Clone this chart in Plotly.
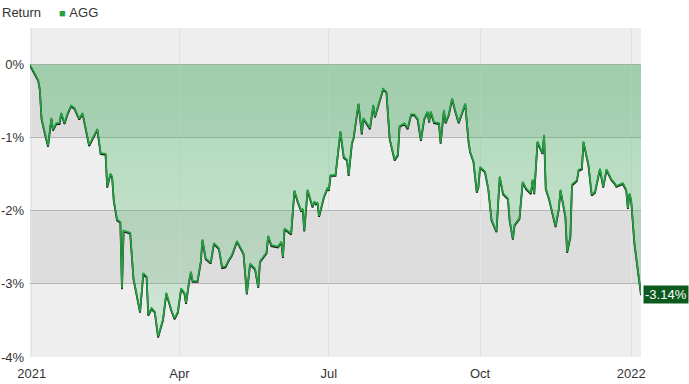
import plotly.graph_objects as go

# ---- data -------------------------------------------------------------
dates = ["2020-12-31","2021-01-05","2021-01-06","2021-01-07","2021-01-09","2021-01-11","2021-01-13","2021-01-14",
"2021-01-16","2021-01-18","2021-01-19","2021-01-21","2021-01-23","2021-01-25","2021-01-27","2021-01-30","2021-02-01",
"2021-02-03","2021-02-05","2021-02-10","2021-02-12","2021-02-15","2021-02-16","2021-02-18","2021-02-19","2021-02-20",
"2021-02-22","2021-02-24","2021-02-25","2021-02-26","2021-03-02","2021-03-04","2021-03-08","2021-03-10","2021-03-12",
"2021-03-13","2021-03-15","2021-03-17","2021-03-19","2021-03-22","2021-03-24","2021-03-27","2021-03-29","2021-03-31",
"2021-04-02","2021-04-04","2021-04-05","2021-04-07","2021-04-08","2021-04-09","2021-04-12","2021-04-14","2021-04-15",
"2021-04-17","2021-04-20","2021-04-22","2021-04-25","2021-04-27","2021-04-29","2021-05-01","2021-05-03","2021-05-06",
"2021-05-08","2021-05-10","2021-05-12","2021-05-14","2021-05-17","2021-05-19","2021-05-20","2021-05-24","2021-05-25",
"2021-05-27","2021-05-31","2021-06-02","2021-06-03","2021-06-04","2021-06-08","2021-06-10","2021-06-12","2021-06-14",
"2021-06-15","2021-06-16","2021-06-18","2021-06-21","2021-06-22","2021-06-23","2021-06-24","2021-06-25","2021-06-28",
"2021-06-30","2021-07-01","2021-07-02","2021-07-05","2021-07-08","2021-07-10","2021-07-12","2021-07-13","2021-07-15",
"2021-07-16","2021-07-19","2021-07-21","2021-07-22","2021-07-26","2021-07-28","2021-07-29","2021-07-31","2021-08-03",
"2021-08-05","2021-08-07","2021-08-10","2021-08-12","2021-08-13","2021-08-16","2021-08-18","2021-08-20","2021-08-22",
"2021-08-24","2021-08-26","2021-08-28","2021-08-30","2021-08-31","2021-09-01","2021-09-03","2021-09-06","2021-09-07",
"2021-09-09","2021-09-10","2021-09-12","2021-09-14","2021-09-16","2021-09-18","2021-09-22","2021-09-24","2021-09-25",
"2021-09-27","2021-09-29","2021-09-30","2021-10-01","2021-10-04","2021-10-06","2021-10-08","2021-10-11","2021-10-13",
"2021-10-15","2021-10-18","2021-10-19","2021-10-21","2021-10-22","2021-10-25","2021-10-27","2021-10-29","2021-11-01",
"2021-11-02","2021-11-03","2021-11-05","2021-11-08","2021-11-09","2021-11-10","2021-11-12","2021-11-16","2021-11-18",
"2021-11-19","2021-11-22","2021-11-23","2021-11-25","2021-11-26","2021-11-29","2021-11-30","2021-12-02","2021-12-03",
"2021-12-06","2021-12-08","2021-12-10","2021-12-13","2021-12-15","2021-12-17","2021-12-20","2021-12-22","2021-12-23",
"2021-12-25","2021-12-27","2021-12-29","2021-12-30","2021-12-31","2022-01-01","2022-01-03","2022-01-05","2022-01-07"]

agg_return = [0.00,-0.21,-0.34,-0.73,-0.93,-1.11,-0.73,-0.89,-0.80,-0.80,-0.66,-0.80,-0.66,-0.56,-0.59,-0.74,-0.66,
-0.89,-1.10,-0.88,-1.21,-1.22,-1.67,-1.49,-1.53,-1.85,-2.12,-2.15,-3.06,-2.27,-2.30,-2.92,-3.38,-2.85,-2.90,-3.42,
-3.33,-3.38,-3.72,-3.48,-3.12,-3.35,-3.47,-3.38,-3.06,-3.12,-3.26,-2.94,-2.83,-2.96,-2.96,-2.69,-2.39,-2.65,-2.71,
-2.44,-2.51,-2.77,-2.76,-2.67,-2.60,-2.41,-2.49,-2.58,-3.13,-2.72,-2.79,-3.04,-2.69,-2.57,-2.34,-2.47,-2.49,-2.42,
-2.63,-2.24,-2.31,-1.72,-1.87,-1.99,-1.97,-2.27,-1.71,-1.94,-1.87,-1.90,-1.88,-2.07,-1.80,-1.69,-1.71,-1.51,-1.51,
-0.91,-1.26,-1.30,-1.51,-1.07,-1.00,-0.53,-0.94,-0.73,-0.87,-0.55,-0.71,-0.55,-0.33,-0.37,-1.01,-1.30,-1.23,-0.84,
-0.80,-0.87,-0.68,-0.68,-0.74,-1.03,-0.74,-0.64,-0.78,-0.64,-0.79,-0.80,-1.07,-0.62,-0.79,-0.68,-0.46,-0.64,-0.79,
-0.53,-1.05,-1.19,-1.32,-1.74,-1.67,-1.40,-1.46,-1.69,-2.12,-2.28,-1.53,-1.76,-1.83,-2.12,-2.38,-2.19,-2.10,-1.60,
-1.69,-1.76,-1.57,-1.76,-1.05,-1.21,-0.96,-1.69,-1.83,-2.21,-1.96,-1.71,-2.08,-2.56,-2.35,-1.64,-1.58,-1.44,-1.42,
-1.05,-1.37,-1.78,-1.74,-1.42,-1.67,-1.43,-1.57,-1.62,-1.66,-1.64,-1.62,-1.71,-1.96,-1.76,-1.85,-2.44,-2.81,-3.14]

x_tick_vals = ["2021-01-01", "2021-04-01", "2021-07-01", "2021-10-01", "2022-01-01"]
x_tick_text = ["2021", "Apr", "Jul", "Oct", "2022"]
y_tick_vals = [0, -1, -2, -3, -4]
y_tick_text = ["0%", "-1%", "-2%", "-3%", "-4%"]
series_name = "AGG"
legend_title = "Return"

assert len(dates) == len(agg_return), (len(dates), len(agg_return))

# ---- style ------------------------------------------------------------
W, H = 689, 384
M = dict(l=30, r=48, t=28, b=27)
Y_RANGE = [-4, 0.5]
X_RANGE = ["2020-12-31", "2022-01-07"]
plot_h = H - M["t"] - M["b"]
px_y = (Y_RANGE[1] - Y_RANGE[0]) / plot_h  # one pixel in data units
GREEN = "#22a13f"
FONT = "Liberation Sans, Arial, sans-serif"

fig = go.Figure()

# fill between the line and 0
fig.add_trace(go.Scatter(
    x=dates, y=agg_return, mode="lines", line=dict(width=0, color=GREEN),
    fill="tozeroy",
    fillgradient=dict(type="vertical", start=-4, stop=0,
                      colorscale=[[0, "rgba(60,180,90,0.14)"], [1, "rgba(60,180,90,0.38)"]]),
    showlegend=False, hoverinfo="skip"))

# dark shadow, 1px lower
fig.add_trace(go.Scatter(
    x=dates, y=agg_return, mode="lines", yaxis="y2",
    line=dict(width=1.8, color="#151515"), showlegend=False, hoverinfo="skip"))

# green line on top
fig.add_trace(go.Scatter(
    x=dates, y=agg_return, mode="lines", yaxis="y3", name=series_name,
    line=dict(width=1.6, color=GREEN), showlegend=False))

bands = [(-1, 0), (-3, -2)]
shapes = [dict(type="rect", xref="paper", x0=0, x1=1, yref="y", y0=a, y1=b,
               fillcolor="#dddddd", line=dict(width=0), layer="below") for a, b in bands]

annotations = [
    dict(xref="paper", yref="paper", x=-30 / (W - M["l"] - M["r"]), y=1,
         xanchor="left", yanchor="bottom", yshift=6, showarrow=False,
         text=f"{legend_title}&nbsp;&nbsp;&nbsp;&nbsp;&nbsp;<span style='color:{GREEN};font-size:11px'>■</span>&nbsp;{series_name}",
         font=dict(family=FONT, size=13, color="#333333")),
    dict(x=dates[-1], y=agg_return[-1], xref="x", yref="y", xanchor="left", yanchor="middle",
         xshift=2, showarrow=False, text=f"{agg_return[-1]:.2f}%",
         bgcolor="#0c5a1e", borderpad=1,
         font=dict(family=FONT, size=13, color="#ffffff")),
]

fig.update_layout(
    width=W, height=H, margin=M,
    paper_bgcolor="#ffffff", plot_bgcolor="#eeeeee",
    font=dict(family=FONT, size=13, color="#333333"),
    showlegend=False,
    shapes=shapes, annotations=annotations,
    xaxis=dict(type="date", range=X_RANGE, tickvals=x_tick_vals, ticktext=x_tick_text,
               showgrid=True, gridcolor="#e3e3e3", gridwidth=1, zeroline=False,
               showline=False, ticks="", ticklabelstandoff=7, automargin=False,
               tickfont=dict(size=13, color="#333333")),
    yaxis=dict(range=Y_RANGE, tickvals=y_tick_vals, ticktext=y_tick_text,
               showgrid=True, gridcolor="#b5b5b5", gridwidth=1, zeroline=False,
               showline=False, ticks="", ticklabelstandoff=5, automargin=False,
               tickfont=dict(size=13, color="#333333")),
    yaxis2=dict(overlaying="y", range=[Y_RANGE[0] + px_y, Y_RANGE[1] + px_y], visible=False),
    yaxis3=dict(overlaying="y", range=Y_RANGE, visible=False),
)

fig.write_html("out.html")
